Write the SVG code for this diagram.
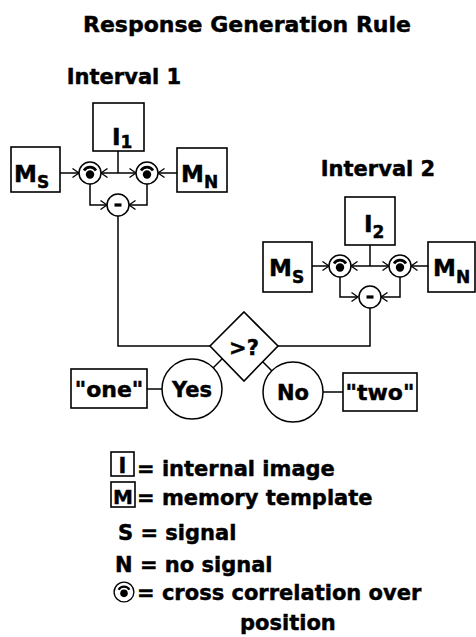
<svg xmlns="http://www.w3.org/2000/svg" width="476" height="637" viewBox="0 0 476 637">
<style>
text{font-family:"DejaVu Sans","Liberation Sans",sans-serif;font-weight:bold;fill:#000;stroke:#000;stroke-width:0.45}
.box{fill:#fff;stroke:#000;stroke-width:1.6}
.ln{fill:none;stroke:#000;stroke-width:1.5}
.circ{fill:#fff;stroke:#000;stroke-width:1.5}
.big{font-size:23px}
.sub{font-size:17px}
.lg{font-size:21px}
</style>
<defs>
<marker id="ch" viewBox="0 0 8 10" refX="7.5" refY="5" markerWidth="8" markerHeight="10" markerUnits="userSpaceOnUse" orient="auto">
<path d="M1,0.5 L7.5,5 L1,9.5" fill="none" stroke="#000" stroke-width="1.3"/>
</marker>
<g id="corr">
<circle cx="0" cy="0" r="11" class="circ"/>
<path d="M-6,-2.5 A7,7 0 0 1 6,-2.5" fill="none" stroke="#000" stroke-width="2.6"/>
<circle cx="0" cy="1.5" r="4.2" fill="#000"/>
</g>
<g id="minus">
<circle cx="0" cy="0" r="11" class="circ"/>
<rect x="-3.5" y="-1.6" width="7" height="3.2" fill="#000"/>
</g>
</defs>
<rect width="476" height="637" fill="#fff"/>

<text id="title" x="247" y="32" text-anchor="middle" style="font-size:22px">Response Generation Rule</text>

<g id="connectors">
<!-- Interval 1 -->
<path class="ln" d="M60,173 H79" marker-end="url(#ch)"/>
<path class="ln" d="M118,151 V173"/>
<path class="ln" d="M118,173 H101" marker-end="url(#ch)"/>
<path class="ln" d="M118,173 H136" marker-end="url(#ch)"/>
<path class="ln" d="M177,173 H158" marker-end="url(#ch)"/>
<path class="ln" d="M90,184 V205 H107" marker-end="url(#ch)"/>
<path class="ln" d="M147,184 V205 H129" marker-end="url(#ch)"/>
<path class="ln" d="M118,216 V346 H210"/>
<!-- Interval 2 -->
<path class="ln" d="M312,266 H329" marker-end="url(#ch)"/>
<path class="ln" d="M370,245 V266"/>
<path class="ln" d="M370,266 H351" marker-end="url(#ch)"/>
<path class="ln" d="M370,266 H389" marker-end="url(#ch)"/>
<path class="ln" d="M428,266 H411" marker-end="url(#ch)"/>
<path class="ln" d="M340,277 V297 H358" marker-end="url(#ch)"/>
<path class="ln" d="M400,277 V297 H381" marker-end="url(#ch)"/>
<path class="ln" d="M370,308 V346 H278"/>
<!-- decision -->
<path class="ln" d="M213,368 L223,358"/>
<path class="ln" d="M272,371 L262,361"/>
<path class="ln" d="M147,389 H162"/>
<path class="ln" d="M323,392 H343"/>
</g>

<g id="interval1">
<text x="124" y="84" text-anchor="middle" class="lg">Interval 1</text>
</g>
<g id="I1">
<rect class="box" x="93" y="103" width="51" height="48"/>
<text x="112" y="145" class="big">I<tspan class="sub" dy="3">1</tspan></text>
</g>
<g id="MS1">
<rect class="box" x="11" y="147" width="49" height="45"/>
<text x="14" y="182" class="big">M<tspan class="sub" dy="6">S</tspan></text>
</g>
<g id="MN1">
<rect class="box" x="177" y="148" width="50" height="44"/>
<text x="181" y="182" class="big">M<tspan class="sub" dy="6">N</tspan></text>
</g>
<g id="corr1L"><use href="#corr" x="90" y="173"/></g>
<g id="corr1R"><use href="#corr" x="147" y="173"/></g>
<g id="minus1"><use href="#minus" x="118" y="205"/></g>

<g id="interval2">
<text x="378" y="176" text-anchor="middle" class="lg">Interval 2</text>
</g>
<g id="I2">
<rect class="box" x="345" y="197" width="50" height="48"/>
<text x="364" y="232" class="big">I<tspan class="sub" dy="6">2</tspan></text>
</g>
<g id="MS2">
<rect class="box" x="263" y="242" width="49" height="50"/>
<text x="269" y="276" class="big">M<tspan class="sub" dy="7">S</tspan></text>
</g>
<g id="MN2">
<rect class="box" x="428" y="242" width="47" height="50"/>
<text x="433" y="276" class="big">M<tspan class="sub" dy="7">N</tspan></text>
</g>
<g id="corr2L"><use href="#corr" x="340" y="266"/></g>
<g id="corr2R"><use href="#corr" x="400" y="266"/></g>
<g id="minus2"><use href="#minus" x="370" y="297"/></g>

<g id="decision">
<polygon class="box" points="244,312 278,346 244,381 210,346"/>
<text x="244" y="355" text-anchor="middle" class="lg">&gt;?</text>
</g>
<g id="yes">
<circle class="circ" cx="192" cy="389" r="30"/>
<text x="192" y="397" text-anchor="middle" class="lg">Yes</text>
</g>
<g id="no">
<circle class="circ" cx="293" cy="392" r="30"/>
<text x="293" y="400" text-anchor="middle" class="lg">No</text>
</g>
<g id="one">
<rect class="box" x="71" y="369" width="76" height="39"/>
<text x="109" y="397" text-anchor="middle" style="font-size:22px">"one"</text>
</g>
<g id="two">
<rect class="box" x="343" y="373" width="74" height="38"/>
<text x="380" y="400" text-anchor="middle" style="font-size:22px">"two"</text>
</g>

<g id="legend">
<rect class="box" x="111" y="452" width="23" height="24"/>
<text x="122.5" y="473" text-anchor="middle" class="lg">I</text>
<text x="137" y="476" class="lg">= internal image</text>
<rect class="box" x="111" y="482" width="24" height="25"/>
<text x="123" y="504" text-anchor="middle" style="font-size:20px">M</text>
<text x="137" y="505" class="lg">= memory template</text>
<text x="118" y="540" class="lg">S = signal</text>
<text x="115" y="572" class="lg">N = no signal</text>
<use href="#corr" transform="translate(124,592) scale(0.9)"/>
<text x="137" y="600" class="lg">= cross correlation over</text>
<text x="240" y="630" class="lg">position</text>
</g>
</svg>
